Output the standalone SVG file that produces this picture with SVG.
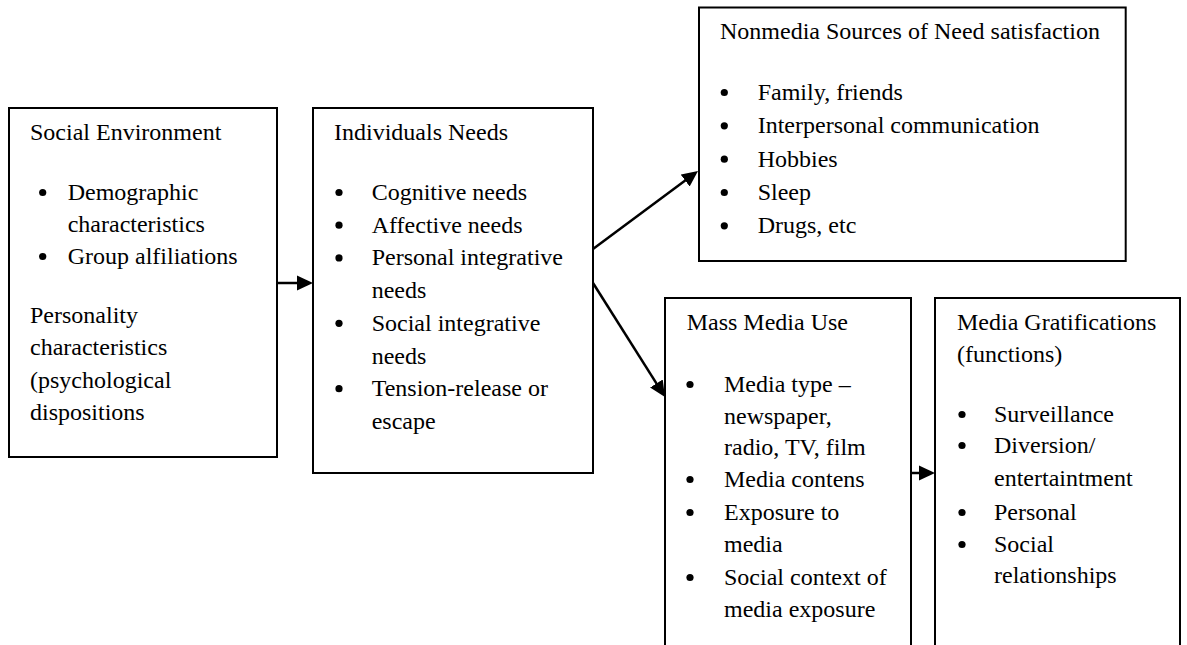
<svg xmlns="http://www.w3.org/2000/svg" width="1187" height="645" viewBox="0 0 1187 645">
<style>
.box{fill:#fff;stroke:#000;stroke-width:2}
.t{font-family:"Liberation Serif","Times New Roman",serif;font-size:24px;fill:#000}
.b{fill:#000}
.c{stroke:#000;stroke-width:2.5;fill:none;marker-end:url(#ah)}
</style>
<defs>
<marker id="ah" markerWidth="16" markerHeight="16" refX="8" refY="8" orient="auto" markerUnits="userSpaceOnUse">
<path d="M0,0.5 L16,8 L0,15.5 z" fill="#000"/>
</marker>
</defs>
<rect width="1187" height="645" fill="#fff"/>
<g id="social-environment">
<rect class="box" x="9" y="108" width="268" height="349"/>
<text class="t" x="30" y="140">Social Environment</text>
<circle class="b" cx="42.7" cy="192.5" r="3.6"/>
<text class="t" x="67.7" y="200">Demographic</text>
<text class="t" x="67.7" y="232">characteristics</text>
<circle class="b" cx="42.7" cy="256.5" r="3.6"/>
<text class="t" x="67.7" y="264">Group alfiliations</text>
<text class="t" x="30" y="323">Personality</text>
<text class="t" x="30" y="355.3">characteristics</text>
<text class="t" x="30" y="387.6">(psychological</text>
<text class="t" x="30" y="420">dispositions</text>
</g>
<g id="individual-needs">
<rect class="box" x="313" y="108" width="280" height="365"/>
<text class="t" x="334" y="140">Individuals Needs</text>
<circle class="b" cx="339" cy="192.5" r="3.6"/>
<text class="t" x="371.7" y="200">Cognitive needs</text>
<circle class="b" cx="339" cy="225.2" r="3.6"/>
<text class="t" x="371.7" y="232.7">Affective needs</text>
<circle class="b" cx="339" cy="257.9" r="3.6"/>
<text class="t" x="371.7" y="265.4">Personal integrative</text>
<text class="t" x="371.7" y="298.1">needs</text>
<circle class="b" cx="339" cy="323.3" r="3.6"/>
<text class="t" x="371.7" y="330.8">Social integrative</text>
<text class="t" x="371.7" y="363.5">needs</text>
<circle class="b" cx="339" cy="388.7" r="3.6"/>
<text class="t" x="371.7" y="396.2">Tension-release or</text>
<text class="t" x="371.7" y="428.9">escape</text>
</g>
<g id="nonmedia-sources">
<rect class="box" x="699" y="7.5" width="426.7" height="253.5"/>
<text class="t" x="720" y="39">Nonmedia Sources of Need satisfaction</text>
<circle class="b" cx="724.3" cy="92.5" r="3.6"/>
<text class="t" x="757.7" y="100">Family, friends</text>
<circle class="b" cx="724.3" cy="125.8" r="3.6"/>
<text class="t" x="757.7" y="133.3">Interpersonal communication</text>
<circle class="b" cx="724.3" cy="159.2" r="3.6"/>
<text class="t" x="757.7" y="166.7">Hobbies</text>
<circle class="b" cx="724.3" cy="192.5" r="3.6"/>
<text class="t" x="757.7" y="200">Sleep</text>
<circle class="b" cx="724.3" cy="225.8" r="3.6"/>
<text class="t" x="757.7" y="233.3">Drugs, etc</text>
</g>
<g id="mass-media-use">
<path class="box" d="M665,650 V298 H911 V650"/>
<text class="t" x="686.7" y="330">Mass Media Use</text>
<circle class="b" cx="690" cy="384.5" r="3.6"/>
<text class="t" x="724" y="392">Media type –</text>
<text class="t" x="724" y="423.5">newspaper,</text>
<text class="t" x="724" y="455">radio, TV, film</text>
<circle class="b" cx="690" cy="479.5" r="3.6"/>
<text class="t" x="724" y="487">Media contens</text>
<circle class="b" cx="690" cy="512.5" r="3.6"/>
<text class="t" x="724" y="520">Exposure to</text>
<text class="t" x="724" y="552">media</text>
<circle class="b" cx="690" cy="577.5" r="3.6"/>
<text class="t" x="724" y="585">Social context of</text>
<text class="t" x="724" y="617">media exposure</text>
</g>
<g id="media-gratifications">
<path class="box" d="M935,650 V298 H1180 V650"/>
<text class="t" x="957" y="330">Media Gratifications</text>
<text class="t" x="957" y="362">(functions)</text>
<circle class="b" cx="962" cy="414.5" r="3.6"/>
<text class="t" x="994" y="422">Surveillance</text>
<circle class="b" cx="962" cy="445.5" r="3.6"/>
<text class="t" x="994" y="453">Diversion/</text>
<text class="t" x="994" y="486">entertaintment</text>
<circle class="b" cx="962" cy="512.5" r="3.6"/>
<text class="t" x="994" y="520">Personal</text>
<circle class="b" cx="962" cy="544.5" r="3.6"/>
<text class="t" x="994" y="552">Social</text>
<text class="t" x="994" y="583">relationships</text>
</g>
<g id="connectors">
<line class="c" x1="277" y1="283" x2="305" y2="283"/>
<line class="c" x1="593" y1="249" x2="691.6" y2="175.8"/>
<line class="c" x1="593" y1="283" x2="660.7" y2="390.2"/>
<line class="c" x1="911" y1="473" x2="927" y2="473"/>
</g>
</svg>
